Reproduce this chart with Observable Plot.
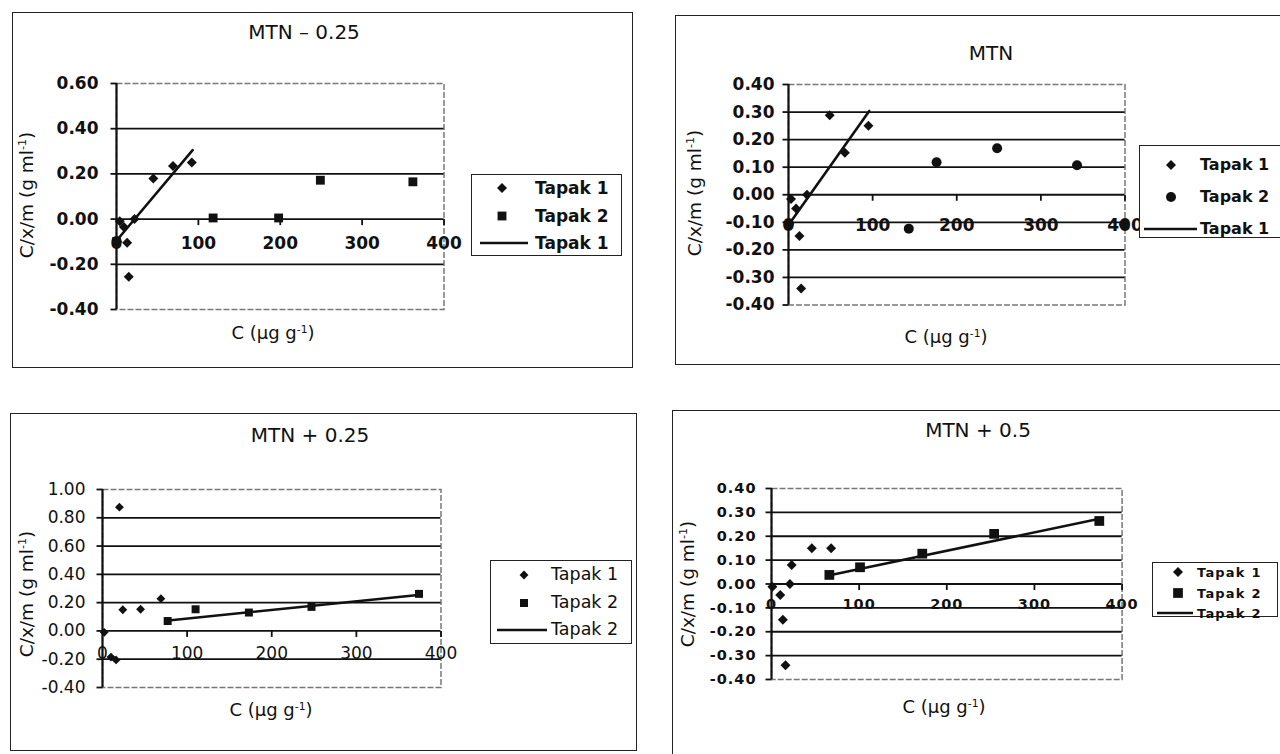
<!DOCTYPE html>
<html><head><meta charset="utf-8">
<script src="https://cdn.jsdelivr.net/npm/d3@7"></script>
<script src="https://cdn.jsdelivr.net/npm/@observablehq/plot@0.6"></script>
<style>
body{margin:0;background:#fff;}
#root{position:relative;width:1280px;height:754px;overflow:hidden;background:#fff;font-family:"DejaVu Sans",sans-serif;color:#111;}
.box{position:absolute;border:1.5px solid #222;box-sizing:border-box;}
.abs{position:absolute;white-space:nowrap;line-height:1;}
sup{font-size:0.6em;vertical-align:0.6em;line-height:0;}
</style></head><body><div id="root"></div>
<script>
// ---------- DATA ----------
const xTicks = [0, 100, 200, 300, 400];
const seriesNames = ["Tapak 1", "Tapak 2"];

// Panel 1: MTN – 0.25
const p1Title = "MTN – 0.25";
const p1YTicks = [-0.4, -0.2, 0, 0.2, 0.4, 0.6];
const p1Tapak1C = [1, 4, 9, 13, 15, 22, 45, 69, 92];
const p1Tapak1Y = [-0.10, -0.01, -0.035, -0.105, -0.255, 0.00, 0.18, 0.235, 0.25];
const p1Tapak2C = [0, 118, 198, 249, 362];
const p1Tapak2Y = [-0.10, 0.005, 0.005, 0.172, 0.165];
const p1FitC = [2, 93];
const p1FitY = [-0.087, 0.305];
const p1Legend = ["Tapak 1", "Tapak 2", "Tapak 1"];

// Panel 2: MTN
const p2Title = "MTN";
const p2YTicks = [-0.4, -0.3, -0.2, -0.1, 0, 0.1, 0.2, 0.3, 0.4];
const p2Tapak1C = [1, 3, 9, 22, 13, 15, 49, 67, 95];
const p2Tapak1Y = [-0.105, -0.015, -0.05, 0.0, -0.15, -0.34, 0.288, 0.152, 0.25];
const p2Tapak2C = [0, 143, 176, 248, 343, 399];
const p2Tapak2Y = [-0.11, -0.123, 0.118, 0.169, 0.107, -0.107];
const p2FitC = [0, 96];
const p2FitY = [-0.11, 0.304];
const p2Legend = ["Tapak 1", "Tapak 2", "Tapak 1"];

// Panel 3: MTN + 0.25
const p3Title = "MTN + 0.25";
const p3YTicks = [-0.4, -0.2, 0, 0.2, 0.4, 0.6, 0.8, 1.0];
const p3Tapak1C = [2, 10, 16, 20, 24, 45, 69];
const p3Tapak1Y = [-0.01, -0.185, -0.205, 0.875, 0.15, 0.153, 0.228];
const p3Tapak2C = [77, 110, 173, 247, 374];
const p3Tapak2Y = [0.07, 0.153, 0.13, 0.17, 0.262];
const p3FitC = [75, 376];
const p3FitY = [0.072, 0.256];
const p3Legend = ["Tapak 1", "Tapak 2", "Tapak 2"];

// Panel 4: MTN + 0.5
const p4Title = "MTN + 0.5";
const p4YTicks = [-0.4, -0.3, -0.2, -0.1, 0, 0.1, 0.2, 0.3, 0.4];
const p4Tapak1C = [1, 10, 13, 16, 21, 23, 46, 68];
const p4Tapak1Y = [-0.012, -0.046, -0.15, -0.34, 0.0, 0.08, 0.15, 0.15];
const p4Tapak2C = [66, 101, 172, 254, 374];
const p4Tapak2Y = [0.038, 0.07, 0.127, 0.21, 0.264];
const p4FitC = [65, 377];
const p4FitY = [0.036, 0.275];
const p4Legend = ["Tapak 1", "Tapak 2", "Tapak 2"];

const xTitle = 'C (µg g<sup>-1</sup>)';
const yTitle = 'C/x/m (g ml<sup>-1</sup>)';

// ---------- RENDER ----------
const root = document.getElementById("root");
const INK = "#111";

function addDiv(html, x, y, css, transform){
  const d = document.createElement("div");
  d.className = "abs";
  d.innerHTML = html;
  d.style.left = x + "px"; d.style.top = y + "px";
  d.style.transform = transform || "translate(-50%,-50%)";
  Object.assign(d.style, css || {});
  root.appendChild(d);
  return d;
}

const xTickSym = {draw(ctx){ ctx.moveTo(0,0); ctx.lineTo(0,6); }};
const yTickSym = {draw(ctx){ ctx.moveTo(0,0); ctx.lineTo(-6,0); }};

function symPath(sym, r){
  const map = {diamond2: d3.symbolDiamond2, square: d3.symbolSquare, circle: d3.symbolCircle};
  return d3.symbol(map[sym], Math.PI * r * r)();
}

function drawPanel(c){
  // outer box
  const b = document.createElement("div"); b.className = "box";
  Object.assign(b.style, {left: c.box[0]+"px", top: c.box[1]+"px",
    width: (c.box[2]-c.box[0])+"px", height: (c.box[3]-c.box[1])+"px"});
  root.appendChild(b);

  const [px0, px1, py0, py1] = c.plot;
  const mL = 75, mR = 40, mT = 10, mB = 45;
  const t1 = c.t1C.map((x,i)=>({x, y:c.t1Y[i]}));
  const t2 = c.t2C.map((x,i)=>({x, y:c.t2Y[i]}));
  const fit = c.fitC.map((x,i)=>({x, y:c.fitY[i]}));
  const yd = [c.yTicks[0], c.yTicks[c.yTicks.length-1]];
  const grid = c.yTicks.filter(v => v > yd[0]+1e-9 && v < yd[1]-1e-9);
  const font = {fontFamily: '"DejaVu Sans", sans-serif', fontSize: c.tickSize, fontWeight: c.tickWeight};

  const svg = Plot.plot({
    width: px1-px0+mL+mR, height: py1-py0+mT+mB,
    marginLeft: mL, marginRight: mR, marginTop: mT, marginBottom: mB,
    x: {domain: [0, 400], axis: null},
    y: {domain: yd, axis: null},
    style: {background: "transparent", color: INK, letterSpacing: c.tickSpacing || "0px", overflow: "visible"},
    marks: [
      Plot.frame({stroke: "#777", strokeWidth: 1.5, strokeDasharray: "6,2"}),
      Plot.ruleY(grid, {stroke: INK, strokeWidth: 1.8}),
      Plot.dot(c.yTicks, {x: 0, y: d=>d, symbol: yTickSym, fill: "none", stroke: INK, strokeWidth: 1.8}),
      Plot.dot(xTicks.slice(1), {x: d=>d, y: 0, symbol: xTickSym, fill: "none", stroke: INK, strokeWidth: 1.8}),
      Plot.ruleX([0], {stroke: INK, strokeWidth: 2.2}),
      Plot.text(c.yTicks, {x: 0, y: d=>d, text: d=>d.toFixed(2), textAnchor: "end", dx: c.yLabelDx, fill: INK, ...font}),
      Plot.text(xTicks, {x: d=>d, y: 0, text: d=>String(d), dy: c.xLabelDy, lineAnchor: "middle", fill: INK, ...font}),
      Plot.line(fit, {x: "x", y: "y", stroke: INK, strokeWidth: 2.6}),
      Plot.dot(t1, {x: "x", y: "y", symbol: "diamond2", r: c.t1R, fill: INK, stroke: "none"}),
      Plot.dot(t2, {x: "x", y: "y", symbol: c.t2Sym, r: c.t2R, fill: INK, stroke: "none"})
    ]
  });
  svg.style.position = "absolute";
  svg.style.left = (px0-mL) + "px";
  svg.style.top = (py0-mT) + "px";
  root.appendChild(svg);

  // texts
  addDiv(c.title, c.titlePos[0], c.titlePos[1], {fontSize: "20px"});
  addDiv(xTitle, c.xTitlePos[0], c.xTitlePos[1], {fontSize: "18px"});
  addDiv(yTitle, c.yTitlePos[0], c.yTitlePos[1], {fontSize: "18.5px"}, "translate(-50%,-50%) rotate(-90deg)");

  // legend
  const L = c.legend;
  const lb = document.createElement("div"); lb.className = "box";
  Object.assign(lb.style, {left: L.box[0]+"px", top: L.box[1]+"px",
    width: (L.box[2]-L.box[0])+"px", height: (L.box[3]-L.box[1])+"px", background: "#fff"});
  root.appendChild(lb);
  const syms = ["diamond2", c.t2Sym, "line"];
  const rs = [c.t1R, c.t2R, 0];
  c.legendLabels.forEach((lab, i) => {
    const y = L.rows[i];
    const s = document.createElementNS("http://www.w3.org/2000/svg", "svg");
    s.setAttribute("width", 80); s.setAttribute("height", 20);
    s.style.position = "absolute"; s.style.left = (L.lineX[0]-5)+"px"; s.style.top = (y-10)+"px";
    if (syms[i] === "line") {
      const ln = document.createElementNS("http://www.w3.org/2000/svg", "line");
      ln.setAttribute("x1", 5); ln.setAttribute("x2", 5 + L.lineX[1]-L.lineX[0]);
      ln.setAttribute("y1", 10); ln.setAttribute("y2", 10);
      ln.setAttribute("stroke", INK); ln.setAttribute("stroke-width", 2.6);
      s.appendChild(ln);
    } else {
      const p = document.createElementNS("http://www.w3.org/2000/svg", "path");
      p.setAttribute("d", symPath(syms[i], rs[i]));
      p.setAttribute("transform", `translate(${5 + L.markX - L.lineX[0]},10)`);
      p.setAttribute("fill", INK);
      s.appendChild(p);
    }
    root.appendChild(s);
    addDiv(lab, L.textX, y, {fontSize: L.size, fontWeight: L.weight, letterSpacing: L.spacing || "0px"}, "translate(0,-50%)");
  });
}

drawPanel({
  box: [12, 12, 633, 368], plot: [115.5, 443, 83, 309],
  yTicks: p1YTicks, t1C: p1Tapak1C, t1Y: p1Tapak1Y, t2C: p1Tapak2C, t2Y: p1Tapak2Y,
  fitC: p1FitC, fitY: p1FitY, t2Sym: "square", t1R: 4.5, t2R: 5,
  tickSize: "17px", tickWeight: "bold", yLabelDx: -18, xLabelDy: 24,
  title: p1Title, titlePos: [304, 32], xTitlePos: [273, 333], yTitlePos: [27, 195],
  legendLabels: p1Legend,
  legend: {box: [471, 174, 622, 256], rows: [188, 216, 243], markX: 502, lineX: [480, 528], textX: 535, size: "17px", weight: "bold"}
});
drawPanel({
  box: [675, 15, 1292, 365], plot: [787.5, 1124, 84, 304.5],
  yTicks: p2YTicks, t1C: p2Tapak1C, t1Y: p2Tapak1Y, t2C: p2Tapak2C, t2Y: p2Tapak2Y,
  fitC: p2FitC, fitY: p2FitY, t2Sym: "circle", t1R: 4.5, t2R: 5,
  tickSize: "17px", tickWeight: "bold", yLabelDx: -14, xLabelDy: 31,
  title: p2Title, titlePos: [991, 53], xTitlePos: [946, 337], yTitlePos: [695, 193],
  legendLabels: p2Legend,
  legend: {box: [1139, 145, 1292, 238], rows: [165, 197, 229], markX: 1171, lineX: [1144, 1197], textX: 1200, size: "16px", weight: "bold"}
});
drawPanel({
  box: [10, 413, 637, 751], plot: [101.5, 440, 489, 687],
  yTicks: p3YTicks, t1C: p3Tapak1C, t1Y: p3Tapak1Y, t2C: p3Tapak2C, t2Y: p3Tapak2Y,
  fitC: p3FitC, fitY: p3FitY, t2Sym: "square", t1R: 4, t2R: 4.5,
  tickSize: "17px", tickWeight: "normal", yLabelDx: -17, xLabelDy: 23,
  title: p3Title, titlePos: [310, 435], xTitlePos: [271, 710], yTitlePos: [27, 594],
  legendLabels: p3Legend,
  legend: {box: [490, 560, 632, 644], rows: [575, 603, 630], markX: 524, lineX: [497, 547], textX: 551, size: "17.5px", weight: "normal"}
});
drawPanel({
  box: [672, 410, 1292, 760], plot: [771, 1121.6, 487.5, 678.5],
  yTicks: p4YTicks, t1C: p4Tapak1C, t1Y: p4Tapak1Y, t2C: p4Tapak2C, t2Y: p4Tapak2Y,
  fitC: p4FitC, fitY: p4FitY, t2Sym: "square", t1R: 4.5, t2R: 5.5,
  tickSize: "14.5px", tickWeight: "bold", tickSpacing: "1px", yLabelDx: -15, xLabelDy: 20,
  title: p4Title, titlePos: [978, 430], xTitlePos: [944, 707], yTitlePos: [688, 584],
  legendLabels: p4Legend,
  legend: {box: [1152, 562, 1278, 617], rows: [572, 593, 613], markX: 1178, lineX: [1157, 1193], textX: 1197, size: "13px", weight: "bold", spacing: "1.2px"}
});
</script></body></html>
